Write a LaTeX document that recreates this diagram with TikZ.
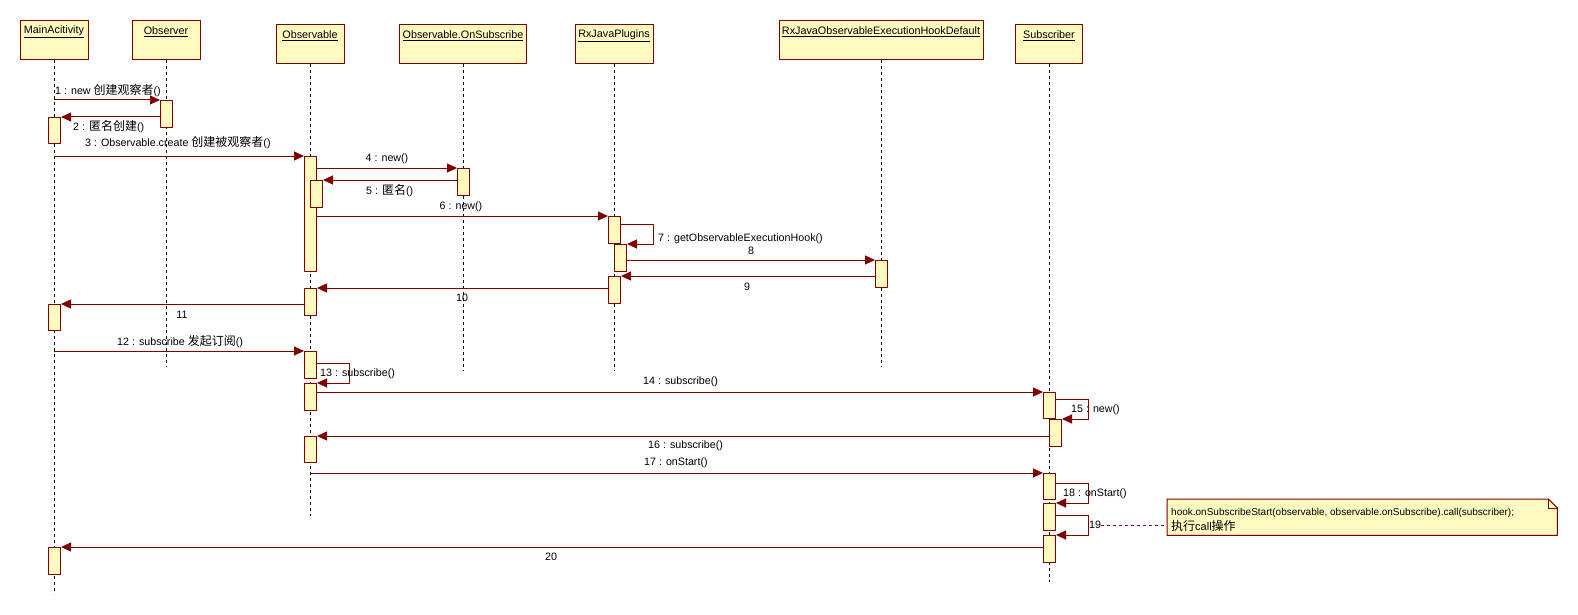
\documentclass[tikz,border=0pt]{standalone}
\usepackage{fontspec}
\setmainfont{Liberation Sans}
\newfontfamily\cjk{Noto Sans CJK SC}
\usetikzlibrary{arrows.meta,calc}
\definecolor{seqred}{RGB}{128,0,0}
\definecolor{actfill}{RGB}{255,250,192}
\newcommand{\zh}[1]{{\cjk\fontsize{12}{12}\selectfont #1}}
\begin{document}
\begin{tikzpicture}[x=1pt,y=-1pt,
  obj/.style={draw=seqred, fill=actfill, line width=1pt, inner sep=0pt, minimum height=39pt, anchor=north},
  objlbl/.style={font=\fontsize{10.8}{12}\selectfont, inner sep=0pt},
  life/.style={draw=black, line width=0.8pt, dash pattern=on 3pt off 3pt},
  act/.style={draw=seqred, fill=actfill, line width=1pt, inner sep=0pt, minimum width=12pt, anchor=north west},
  msg/.style={draw=seqred, line width=1pt, -{Triangle[length=10pt,width=9pt]}},
  lbl/.style={font=\fontsize{10.7}{12}\selectfont, inner sep=0pt},
  notebox/.style={draw=seqred, fill=actfill, line width=1pt},
  notelink/.style={draw=seqred, line width=0.8pt, dash pattern=on 3pt off 3pt}]
\fill[white] (0,0) rectangle (1578,615);
\useasboundingbox (0,0) rectangle (1578,615);

% header boxes
\node[obj, minimum width=68pt] (hMA) at (54,20) {};
\node[obj, minimum width=68pt] (hOBS) at (166,20) {};
\node[obj, minimum width=68pt] (hOBL) at (310,24) {};
\node[obj, minimum width=127pt] (hONS) at (463,24) {};
\node[obj, minimum width=78pt] (hRXP) at (614,24) {};
\node[obj, minimum width=204pt] (hHOOK) at (881,20) {};
\node[obj, minimum width=67pt] (hSUB) at (1049,24) {};

\node[objlbl] (tMA) at ($(hMA.north)+(0,12)$) {\underline{MainAcitivity}};
\node[objlbl] (tOBS) at ($(hOBS.north)+(0,12)$) {\underline{Observer}};
\node[objlbl] (tOBL) at ($(hOBL.north)+(0,12)$) {\underline{Observable}};
\node[objlbl] (tONS) at ($(hONS.north)+(0,12)$) {\underline{Observable.OnSubscribe}};
\node[objlbl] (tRXP) at ($(hRXP.north)+(0,12)$) {\underline{RxJavaPlugins}};
\node[objlbl] (tHOOK) at ($(hHOOK.north)+(0,12)$) {\underline{RxJavaObservableExecutionHookDefault}};
\node[objlbl] (tSUB) at ($(hSUB.north)+(0,12)$) {\underline{Subscriber}};

% lifelines
\coordinate (eMA) at (54,594);
\coordinate (eOBS) at (166,367);
\coordinate (eOBL) at (310,516);
\coordinate (eONS) at (463,371);
\coordinate (eRXP) at (614,371);
\coordinate (eHOOK) at (881,367);
\coordinate (eSUB) at (1049,582);
\draw[life] (hMA.south) -- (eMA);
\draw[life] (hOBS.south) -- (eOBS);
\draw[life] (hOBL.south) -- (eOBL);
\draw[life] (hONS.south) -- (eONS);
\draw[life] (hRXP.south) -- (eRXP);
\draw[life] (hHOOK.south) -- (eHOOK);
\draw[life] (hSUB.south) -- (eSUB);

% activations
\node[act, minimum height=26pt] (a1) at (48,117) {};
\node[act, minimum height=26pt] (a2) at (48,304) {};
\node[act, minimum height=27pt] (a3) at (48,547) {};
\node[act, minimum height=27pt] (o1) at (160,100) {};
\node[act, minimum height=115pt] (b1) at (304,156) {};
\node[act, minimum height=27pt] (b2) at (310,180) {};
\node[act, minimum height=27pt] (b3) at (304,288) {};
\node[act, minimum height=27pt] (b4) at (304,351) {};
\node[act, minimum height=27pt] (b5) at (304,383) {};
\node[act, minimum height=26pt] (b6) at (304,436) {};
\node[act, minimum height=27pt] (c1) at (457,168) {};
\node[act, minimum height=27pt] (d1) at (608,216) {};
\node[act, minimum height=27pt] (d2) at (614,244) {};
\node[act, minimum height=27pt] (d3) at (608,276) {};
\node[act, minimum height=27pt] (e1) at (875,260) {};
\node[act, minimum height=26pt] (f1) at (1043,392) {};
\node[act, minimum height=27pt] (f2) at (1049,419) {};
\node[act, minimum height=26pt] (f3) at (1043,473) {};
\node[act, minimum height=27pt] (f4) at (1043,503) {};
\node[act, minimum height=27pt] (f5) at (1043,535) {};

% messages
\draw[msg] (hMA.south |- o1.north) -- (o1.north west);
\draw[msg] (o1.west |- a1.north) -- (a1.north east);
\draw[msg] (hMA.south |- b1.north) -- (b1.north west);
\draw[msg] (b1.east |- c1.north) -- (c1.north west);
\draw[msg] (c1.west |- b2.north) -- (b2.north east);
\draw[msg] (b1.east |- d1.north) -- (d1.north west);
\draw[msg] ($(d1.north east)+(0,8)$) -- ++(32,0) |- (d2.north east);
\draw[msg] (d2.east |- e1.north) -- (e1.north west);
\draw[msg] (e1.west |- d3.north) -- (d3.north east);
\draw[msg] (d3.west |- b3.north) -- (b3.north east);
\draw[msg] (b3.west |- a2.north) -- (a2.north east);
\draw[msg] (hMA.south |- b4.north) -- (b4.north west);
\draw[msg] ($(b4.north east)+(0,12)$) -- ++(32,0) |- (b5.north east);
\draw[msg] (b5.east |- f1.north) -- (f1.north west);
\draw[msg] ($(f1.north east)+(0,7)$) -- ++(32,0) |- (f2.north east);
\draw[msg] (f2.west |- b6.north) -- (b6.north east);
\draw[msg] (hOBL.south |- f3.north) -- (f3.north west);
\draw[msg] ($(f3.north east)+(0,10)$) -- ++(32,0) |- (f4.north east);
\draw[msg] ($(f4.north east)+(0,12)$) -- ++(32,0) |- (f5.north east);
\draw[msg] (f5.west |- a3.north) -- (a3.north east);

% labels
\node[lbl, anchor=west] (l1) at (55,91) {1 : new \zh{创建观察者}()};
\node[lbl, anchor=west] (l2) at (73,127) {2 : \zh{匿名创建}()};
\node[lbl, anchor=west] (l3) at (85,143) {3 : Observable.create \zh{创建被观察者}()};
\node[lbl] (l4) at (387,159) {4 : new()};
\node[lbl, anchor=west] (l5) at (366,191) {5 : \zh{匿名}()};
\node[lbl] (l6) at (461,207) {6 : new()};
\node[lbl, anchor=west] (l7) at (658,239) {7 : getObservableExecutionHook()};
\node[lbl] (l8) at (751,251) {8};
\node[lbl] (l9) at (747,287) {9};
\node[lbl] (l10) at (462,298) {10};
\node[lbl] (l11) at (182,315) {11};
\node[lbl, anchor=west] (l12) at (117,342) {12 : subscribe \zh{发起订阅}()};
\node[lbl, anchor=west] (l13) at (320,374) {13 : subscribe()};
\node[lbl, anchor=west] (l14) at (643,382) {14 : subscribe()};
\node[lbl, anchor=west] (l15) at (1071,410) {15 : new()};
\node[lbl, anchor=west] (l16) at (648,446) {16 : subscribe()};
\node[lbl, anchor=west] (l17) at (644,463) {17 : onStart()};
\node[lbl, anchor=west] (l18) at (1063,494) {18 : onStart()};
\node[lbl, anchor=west] (l19) at (1089,525) {19};
\node[lbl] (l20) at (551,557) {20};

% note
\node[inner sep=0pt, minimum width=390pt, minimum height=36pt, anchor=north west] (note) at (1167,499) {};
\draw[notebox] (note.north west) -- ($(note.north east)+(-9,0)$) -- ($(note.north east)+(0,9)$) -- (note.south east) -- (note.south west) -- cycle;
\draw[seqred, line width=1pt] ($(note.north east)+(-9,0)$) |- ($(note.north east)+(0,9)$);
\node[lbl, font=\fontsize{10}{12}\selectfont, anchor=base west] (nt1) at (1171,515) {hook.onSubscribeStart(observable, observable.onSubscribe).call(subscriber);};
\node[lbl, font=\fontsize{10}{12}\selectfont, anchor=base west] (nt2) at (1171,530) {\zh{执行}{\fontsize{11}{12}\selectfont call}\zh{操作}};
\draw[notelink] (l19.east) -- (note.west |- l19.east);
\end{tikzpicture}
\end{document}
